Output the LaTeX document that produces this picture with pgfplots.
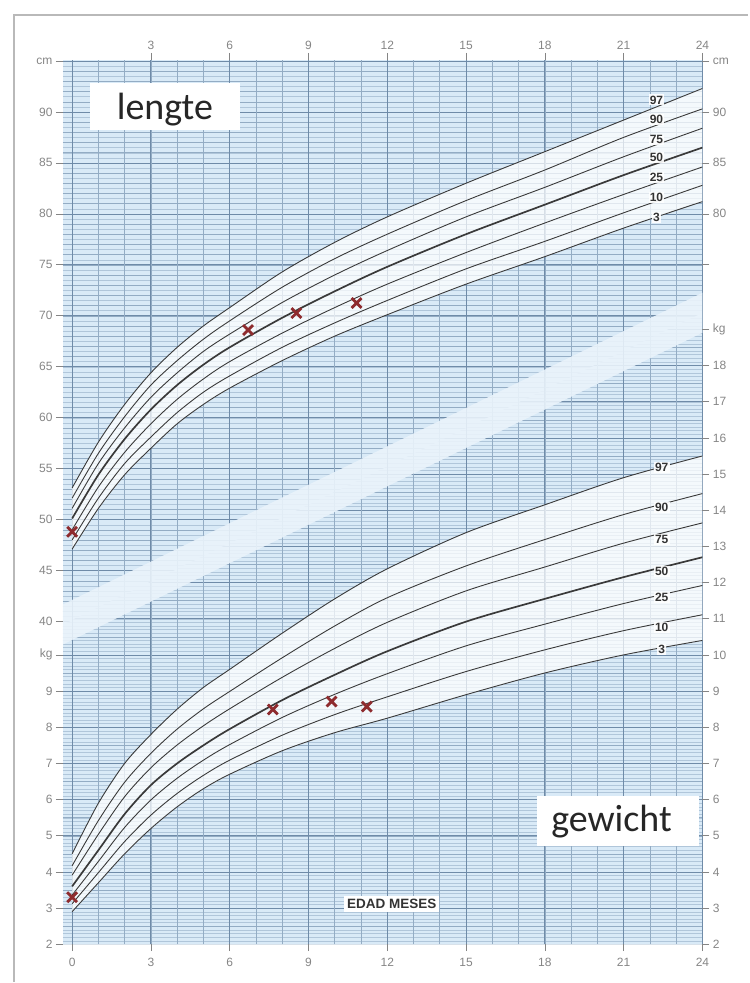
\documentclass[border=0pt]{standalone}
\usepackage{fontspec}
\setmainfont{Liberation Sans}
\newfontfamily\calibri{Carlito}
\usepackage{pgfplots}
\usepackage{pgfplotstable}
\pgfplotsset{compat=1.18}

\definecolor{chartblue}{HTML}{D9EAF7}
\definecolor{gridminor}{HTML}{B0C6DA}
\definecolor{gridmid}{HTML}{93ACC4}
\definecolor{gridmajor}{HTML}{6F8BA8}
\definecolor{bandcol}{HTML}{EAF3FB}
\definecolor{xred}{HTML}{8E2B2E}
\definecolor{tickgray}{HTML}{858585}
\definecolor{curvecol}{HTML}{3A3A3A}

% lengte (cm) per maand
\pgfplotstableread{
m   p3    p10   p25   p50   p75   p90   p97
0   47.1  48.0  49.0  50.1  51.1  52.1  53.1
1   51.1  52.1  53.2  54.4  55.5  56.5  57.6
2   54.4  55.5  56.6  57.9  59.0  60.1  61.3
3   57.0  58.1  59.4  60.8  62.0  63.2  64.4
4   59.4  60.5  61.8  63.2  64.4  65.6  66.9
5   61.3  62.5  63.8  65.2  66.5  67.7  69.0
6   62.9  64.1  65.5  66.9  68.2  69.5  70.8
8   65.6  66.9  68.3  69.8  71.3  72.8  74.3
10  68.0  69.3  70.8  72.4  74.0  75.6  77.2
12  70.1  71.5  73.1  74.8  76.4  78.0  79.7
15  73.1  74.6  76.2  78.0  79.7  81.3  83.0
18  75.8  77.3  79.1  80.9  82.6  84.3  86.1
21  78.6  80.1  81.9  83.8  85.6  87.5  89.2
24  81.2  82.8  84.6  86.5  88.4  90.3  92.3
}\lengte

% gewicht (kg) per maand
\pgfplotstableread{
m   p3     p10    p25    p50    p75    p90    p97
0   2.90   3.12   3.36   3.60   3.91   4.17   4.50
1   3.70   3.98   4.29   4.60   5.04   5.42   5.90
2   4.50   4.84   5.23   5.60   6.08   6.48   7.00
3   5.20   5.57   5.99   6.40   6.88   7.28   7.80
4   5.80   6.17   6.59   7.00   7.51   7.95   8.50
5   6.30   6.67   7.09   7.50   8.04   8.51   9.10
6   6.70   7.09   7.52   7.95   8.51   8.99   9.60
8   7.35   7.78   8.27   8.75   9.38   9.92   10.60
10  7.85   8.35   8.91   9.45   10.18  10.80  11.55
12  8.25   8.84   9.48   10.10  10.90  11.58  12.38
15  8.90   9.54   10.25  10.92  11.77  12.46  13.38
18  9.50   10.14  10.85  11.55  12.43  13.19  14.15
21  10.00  10.67  11.42  12.15  13.09  13.88  14.90
24  10.40  11.11  11.92  12.70  13.65  14.46  15.50
}\gewicht

\pgfplotsset{
  chart/.style={
    scale only axis, width=640pt, height=885pt,
    at={(63pt,38pt)}, anchor=south west,
    xmin=-0.35, xmax=24,
    axis line style={draw=none},
    tick align=outside, major tick length=7pt,
    tick style={tickgray, line width=0.6pt},
    ticklabel style={tickgray, font=\fontsize{12}{12}\selectfont},
    /pgf/number format/assume math mode=true,
  },
  curve/.style={curvecol, line width=0.9pt, smooth, no marks},
  mid/.style={curvecol, line width=1.7pt, smooth, no marks},
  bundle/.style={fill=white, fill opacity=0.72, draw=none, no marks},
  cross/.style={only marks, mark=x, mark size=7pt, xred, line width=2.8pt},
}
\tikzset{
  pct/.style={fill=white, fill opacity=0.9, text opacity=1, inner sep=1.2pt,
    text=black!80, font=\bfseries\fontsize{12}{12}\selectfont},
}

\begin{document}
\begin{tikzpicture}[x=1pt,y=1pt]
\path (0,0) rectangle (749,983);
\draw[gray!55, line width=1.6pt] (14,0) -- (14,968) -- (749,968);

\fill[chartblue] (63,38) rectangle (703,923);

% lengte-raster (boven de band)
\begin{scope}
  \clip (63,923) -- (703,923) -- (703,670) -- (63,358) -- cycle;
  \foreach \c in {30,30.5,...,95.2}
    \draw[gridminor, line width=0.3pt] (63,{10.2*\c-47}) -- (703,{10.2*\c-47});
  \foreach \c in {30,31,...,95}
    \draw[gridmid, line width=0.4pt] (63,{10.2*\c-47}) -- (703,{10.2*\c-47});
  \foreach \c in {30,35,...,95}
    \draw[gridmajor, line width=0.6pt] (63,{10.2*\c-47}) -- (703,{10.2*\c-47});
\end{scope}

% gewicht-raster (onder de band)
\begin{scope}
  \clip (63,38) -- (703,38) -- (703,670) -- (63,358) -- cycle;
  \foreach \k in {2,2.1,...,19.35}
    \draw[gridminor, line width=0.22pt] (63,{38+36.2*(\k-2)}) -- (703,{38+36.2*(\k-2)});
  \foreach \k in {2,2.5,...,19.5}
    \draw[gridmid, line width=0.4pt] (63,{38+36.2*(\k-2)}) -- (703,{38+36.2*(\k-2)});
  \foreach \k in {2,...,19}
    \draw[gridmajor, line width=0.6pt] (63,{38+36.2*(\k-2)}) -- (703,{38+36.2*(\k-2)});
\end{scope}

% maandlijnen
\foreach \mm in {0,...,24}
  \draw[gridmid, line width=0.55pt] ({72.2+26.28*\mm},38) -- ({72.2+26.28*\mm},923);
\foreach \mm in {0,3,...,24}
  \draw[gridmajor, line width=0.85pt] ({72.2+26.28*\mm},38) -- ({72.2+26.28*\mm},923);

% lichte diagonale band
\fill[bandcol, opacity=0.9] (63,378) -- (703,690) -- (703,650) -- (63,338) -- cycle;

% ---------------- gewicht ----------------
\begin{axis}[chart, ymin=2, ymax=26.45,
  axis x line*=bottom, axis y line*=left,
  xtick={0,3,...,24},
  ytick={2,...,10}, yticklabels={2,3,4,5,6,7,8,9,kg},
  xticklabel style={yshift=-3pt}]
  % P97 heen, P3 terug
  \addplot[bundle] coordinates {
    (0,4.50) (1,5.90) (2,7.00) (3,7.80) (4,8.50) (5,9.10) (6,9.60) (8,10.60)
    (10,11.55) (12,12.38) (15,13.38) (18,14.15) (21,14.90) (24,15.50)
    (24,10.40) (21,10.00) (18,9.50) (15,8.90) (12,8.25) (10,7.85) (8,7.35)
    (6,6.70) (5,6.30) (4,5.80) (3,5.20) (2,4.50) (1,3.70) (0,2.90)} -- cycle;
  \addplot[curve] table[x=m, y=p97] {\gewicht};
  \addplot[curve] table[x=m, y=p90] {\gewicht};
  \addplot[curve] table[x=m, y=p75] {\gewicht};
  \addplot[mid]   table[x=m, y=p50] {\gewicht};
  \addplot[curve] table[x=m, y=p25] {\gewicht};
  \addplot[curve] table[x=m, y=p10] {\gewicht};
  \addplot[curve] table[x=m, y=p3]  {\gewicht};
  \addplot[cross] coordinates {(0,3.30) (7.64,8.49) (9.88,8.71) (11.22,8.57)};
  \node[pct] at (axis cs:22.45,15.18) {97};
  \node[pct] at (axis cs:22.45,14.07) {90};
  \node[pct] at (axis cs:22.45,13.19) {75};
  \node[pct] at (axis cs:22.45,12.30) {50};
  \node[pct] at (axis cs:22.45,11.59) {25};
  \node[pct] at (axis cs:22.45,10.76) {10};
  \node[pct] at (axis cs:22.45,10.15) {3};
\end{axis}

\begin{axis}[chart, ymin=2, ymax=26.45,
  axis x line=none, axis y line*=right,
  ytick={2,...,19}, yticklabels={2,3,4,5,6,7,8,9,10,11,12,13,14,15,16,17,18,kg}]
\end{axis}

% ---------------- lengte ----------------
\begin{axis}[chart, ymin=8.33, ymax=95.1,
  axis x line*=top, axis y line*=left,
  xtick={3,6,...,24},
  ytick={40,45,...,95}, yticklabels={40,45,50,55,60,65,70,75,80,85,90,cm}]
  % P97 heen, P3 terug
  \addplot[bundle] coordinates {
    (0,53.1) (1,57.6) (2,61.3) (3,64.4) (4,66.9) (5,69.0) (6,70.8) (8,74.3)
    (10,77.2) (12,79.7) (15,83.0) (18,86.1) (21,89.2) (24,92.3)
    (24,81.2) (21,78.6) (18,75.8) (15,73.1) (12,70.1) (10,68.0) (8,65.6)
    (6,62.9) (5,61.3) (4,59.4) (3,57.0) (2,54.4) (1,51.1) (0,47.1)} -- cycle;
  \addplot[curve] table[x=m, y=p97] {\lengte};
  \addplot[curve] table[x=m, y=p90] {\lengte};
  \addplot[curve] table[x=m, y=p75] {\lengte};
  \addplot[mid]   table[x=m, y=p50] {\lengte};
  \addplot[curve] table[x=m, y=p25] {\lengte};
  \addplot[curve] table[x=m, y=p10] {\lengte};
  \addplot[curve] table[x=m, y=p3]  {\lengte};
  \addplot[cross] coordinates {(0,48.8) (6.70,68.6) (8.54,70.26) (10.83,71.25)};
  \node[pct] at (axis cs:22.25,91.18) {97};
  \node[pct] at (axis cs:22.25,89.22) {90};
  \node[pct] at (axis cs:22.25,87.25) {75};
  \node[pct] at (axis cs:22.25,85.49) {50};
  \node[pct] at (axis cs:22.25,83.53) {25};
  \node[pct] at (axis cs:22.25,81.57) {10};
  \node[pct] at (axis cs:22.25,79.61) {3};
\end{axis}

\begin{axis}[chart, ymin=8.33, ymax=95.1,
  axis x line=none, axis y line*=right,
  ytick={75,80,85,90,95}, yticklabels={,80,85,90,cm}]
\end{axis}

% tekstvakken
\fill[white] (90,853) rectangle (240,900);
\node[anchor=base, font=\calibri\fontsize{38}{38}\selectfont, text=black!85] at (165,863) {lengte};
\fill[white] (537,136) rectangle (700,186);
\node[anchor=base, font=\calibri\fontsize{38}{38}\selectfont, text=black!85] at (612,151) {gewicht};
\node[fill=white, inner sep=3pt, font=\bfseries\fontsize{13.5}{13.5}\selectfont, text=black!80] at (392,78) {EDAD MESES};
\end{tikzpicture}
\end{document}
